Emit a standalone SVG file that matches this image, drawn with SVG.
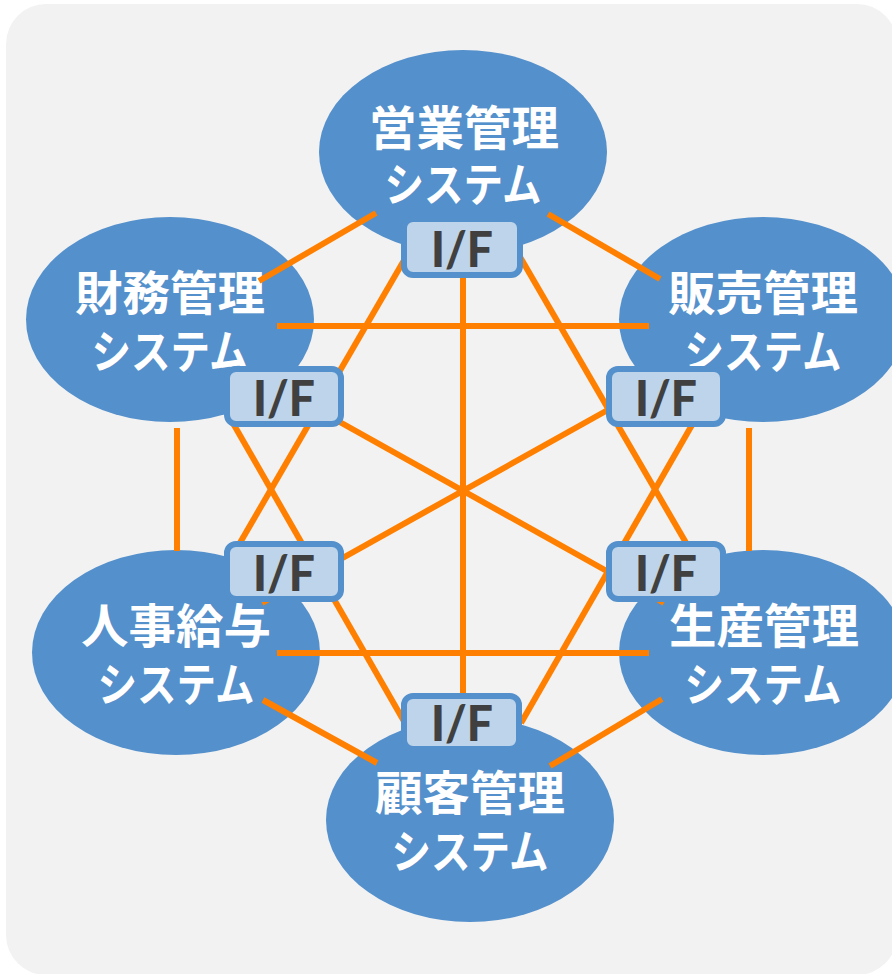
<svg xmlns="http://www.w3.org/2000/svg" width="892" height="974" viewBox="0 0 892 974">
<style>
.sys{fill:#5490CB}
.lbl{font-family:"Noto Sans CJK JP","Noto Sans CJK SC",sans-serif;font-weight:700;fill:#FFFFFF;text-anchor:middle}
.t1{font-size:47px}
.t2{font-size:46px}
.conn line{stroke:#FF8000;stroke-width:6;stroke-linecap:butt}
.ifbox{fill:#BDD4EA;stroke:#5490CB;stroke-width:6}
.iftext{font-family:"Lato","Liberation Sans",sans-serif;font-weight:900;font-size:49px;fill:#404040;text-anchor:middle}
</style>
<rect x="0" y="0" width="892" height="974" fill="#FFFFFF"/>
<rect x="6" y="4" width="891" height="971" rx="40" fill="#F2F2F2"/>

<g id="node-eigyo">
<ellipse class="sys" cx="463" cy="152" rx="144" ry="102"/>
<text class="lbl"><tspan class="t1" x="464" y="145" textLength="190" lengthAdjust="spacingAndGlyphs">営業管理</tspan><tspan class="t2" x="463" y="201" textLength="157" lengthAdjust="spacingAndGlyphs">システム</tspan></text>
</g>
<g id="node-zaimu">
<ellipse class="sys" cx="170" cy="319.5" rx="144" ry="102.5"/>
<text class="lbl"><tspan class="t1" x="170" y="310" textLength="190" lengthAdjust="spacingAndGlyphs">財務管理</tspan><tspan class="t2" x="170" y="368" textLength="157" lengthAdjust="spacingAndGlyphs">システム</tspan></text>
</g>
<g id="node-hanbai">
<ellipse class="sys" cx="763" cy="319.5" rx="144" ry="102.5"/>
<text class="lbl"><tspan class="t1" x="763" y="310" textLength="190" lengthAdjust="spacingAndGlyphs">販売管理</tspan><tspan class="t2" x="763" y="368" textLength="157" lengthAdjust="spacingAndGlyphs">システム</tspan></text>
</g>
<g id="node-jinji">
<ellipse class="sys" cx="176" cy="652.5" rx="144" ry="102.5"/>
<text class="lbl"><tspan class="t1" x="176" y="643" textLength="190" lengthAdjust="spacingAndGlyphs">人事給与</tspan><tspan class="t2" x="176" y="701" textLength="157" lengthAdjust="spacingAndGlyphs">システム</tspan></text>
</g>
<g id="node-seisan">
<ellipse class="sys" cx="763" cy="652.5" rx="144" ry="102.5"/>
<text class="lbl"><tspan class="t1" x="764" y="643" textLength="190" lengthAdjust="spacingAndGlyphs">生産管理</tspan><tspan class="t2" x="763" y="701" textLength="157" lengthAdjust="spacingAndGlyphs">システム</tspan></text>
</g>
<g id="node-kokyaku">
<ellipse class="sys" cx="470" cy="820" rx="144" ry="102"/>
<text class="lbl"><tspan class="t1" x="470" y="810" textLength="190" lengthAdjust="spacingAndGlyphs">顧客管理</tspan><tspan class="t2" x="470" y="868" textLength="157" lengthAdjust="spacingAndGlyphs">システム</tspan></text>
</g>

<g id="connectors" class="conn">
<line x1="376" y1="213" x2="259" y2="281"/>
<line x1="548" y1="214" x2="660" y2="279"/>
<line x1="277" y1="326" x2="649" y2="326"/>
<line x1="177" y1="428" x2="177" y2="551"/>
<line x1="749" y1="428" x2="749" y2="551"/>
<line x1="277" y1="653" x2="649" y2="653"/>
<line x1="263" y1="700" x2="377" y2="763"/>
<line x1="662" y1="699" x2="550" y2="766"/>
<line x1="463" y1="265" x2="463" y2="705"/>
<line x1="410" y1="250" x2="230" y2="560"/>
<line x1="516" y1="250" x2="696" y2="560"/>
<line x1="230" y1="418" x2="405" y2="723"/>
<line x1="696" y1="418" x2="521" y2="723"/>
<line x1="286" y1="392" x2="664" y2="603"/>
<line x1="640" y1="392" x2="262" y2="603"/>
</g>

<g id="if-eigyo">
<rect class="ifbox" x="404" y="219" width="116" height="56" rx="9"/>
<text class="iftext" x="462" y="267" textLength="62" lengthAdjust="spacingAndGlyphs">I/F</text>
</g>
<g id="if-zaimu">
<rect class="ifbox" x="227" y="369" width="114" height="55" rx="9"/>
<text class="iftext" x="284" y="416" textLength="62" lengthAdjust="spacingAndGlyphs">I/F</text>
</g>
<g id="if-hanbai">
<rect class="ifbox" x="609" y="369" width="114" height="55" rx="9"/>
<text class="iftext" x="666" y="416" textLength="62" lengthAdjust="spacingAndGlyphs">I/F</text>
</g>
<g id="if-jinji">
<rect class="ifbox" x="227" y="544" width="114" height="55" rx="9"/>
<text class="iftext" x="284" y="591" textLength="62" lengthAdjust="spacingAndGlyphs">I/F</text>
</g>
<g id="if-seisan">
<rect class="ifbox" x="609" y="544" width="114" height="55" rx="9"/>
<text class="iftext" x="666" y="591" textLength="62" lengthAdjust="spacingAndGlyphs">I/F</text>
</g>
<g id="if-kokyaku">
<rect class="ifbox" x="404" y="696" width="115" height="53" rx="9"/>
<text class="iftext" x="462" y="741" textLength="62" lengthAdjust="spacingAndGlyphs">I/F</text>
</g>
</svg>
